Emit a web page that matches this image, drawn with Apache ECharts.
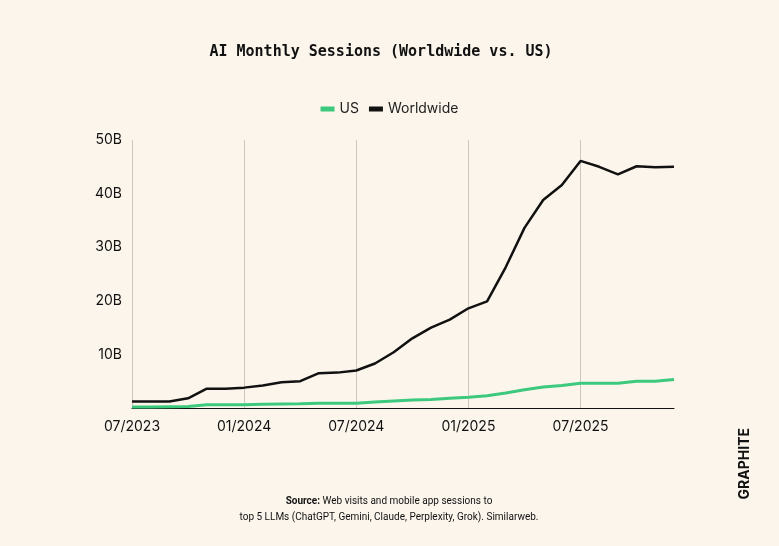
<!DOCTYPE html>
<html><head><meta charset="utf-8">
<script src="https://cdn.jsdelivr.net/npm/echarts@6/dist/echarts.min.js"></script>
<style>html,body{margin:0;background:#fbf5ec;}#c{width:779px;height:546px;}</style>
</head><body><div id="c"></div>
<script>
// monthly, 07/2023 .. 12/2025
const months = [];
for (let i = 0; i < 30; i++) {
  const m = (6 + i) % 12 + 1, y = 2023 + Math.floor((6 + i) / 12);
  months.push((m < 10 ? '0' + m : m) + '/' + y);
}
const worldwide = [1.2,1.2,1.2,1.8,3.6,3.6,3.8,4.2,4.8,5.0,6.5,6.6,7.0,8.3,10.4,13.0,15.0,16.5,18.6,19.9,26.3,33.6,38.8,41.6,46.1,45.0,43.6,45.1,44.9,45.0];
const us = [0.2,0.2,0.25,0.3,0.6,0.6,0.6,0.7,0.75,0.8,0.9,0.9,0.9,1.1,1.3,1.5,1.6,1.8,2.0,2.3,2.8,3.4,3.9,4.2,4.6,4.6,4.6,5.0,5.0,5.3];
const yTicks = [10, 20, 30, 40, 50];

const chart = echarts.init(document.getElementById('c'));
chart.setOption({
  backgroundColor: '#fbf5ec',
  animation: false,
  title: [{
    text: 'AI Monthly Sessions (Worldwide vs. US)',
    left: 376, top: 40, textAlign: 'center',
    textStyle: {fontFamily: 'DejaVu Sans Mono', fontWeight: 'bold', fontSize: 15, color: '#111'}
  }, {
    text: '{b|Source:} Web visits and mobile app sessions to\ntop 5 LLMs (ChatGPT, Gemini, Claude, Perplexity, Grok). Similarweb.',
    left: 384, top: 488, textAlign: 'center',
    textStyle: {fontSize: 10, fontWeight: 'normal', color: '#111', lineHeight: 16, fontFamily: 'Roboto',
      rich: {b: {fontWeight: 'bold', fontSize: 10, fontFamily: 'Roboto'}}}
  }],
  graphic: [{
    type: 'text', left: 738, top: 428, rotation: Math.PI / 2,
    style: {text: 'GRAPHITE', fontSize: 14, fontWeight: 'bold', fill: '#111', fontFamily: 'Inter', letterSpacing: 5}
  }],
  legend: {
    top: 97, left: 'center', itemWidth: 14, itemHeight: 5, itemGap: 10,
    icon: 'rect',
    textStyle: {fontSize: 14, color: '#222', fontFamily: 'Inter'},
    data: ['US', 'Worldwide']
  },
  grid: {left: 132, right: 105, top: 140, bottom: 138},
  xAxis: {
    type: 'category', data: months, boundaryGap: false,
    axisLine: {lineStyle: {color: '#111', width: 1}},
    axisTick: {show: false},
    axisLabel: {interval: 5, color: '#111', fontSize: 14, margin: 12, fontFamily: 'Inter'},
    splitLine: {show: true, interval: 5, lineStyle: {color: '#ccc8c0'}}
  },
  yAxis: {
    type: 'value', min: 0, max: 50, interval: 10,
    axisLine: {show: false}, axisTick: {show: false},
    splitLine: {show: false},
    axisLabel: {
      color: '#111', fontSize: 14, margin: 10, fontFamily: 'Inter',
      formatter: v => yTicks.indexOf(v) >= 0 ? v + 'B' : ''
    }
  },
  series: [{
    name: 'US', type: 'line', data: us, symbol: 'none',
    lineStyle: {color: '#3cc97e', width: 3}, itemStyle: {color: '#3cc97e'}
  }, {
    name: 'Worldwide', type: 'line', data: worldwide, symbol: 'none',
    lineStyle: {color: '#111', width: 2.5}, itemStyle: {color: '#111'}
  }]
});
</script></body></html>
